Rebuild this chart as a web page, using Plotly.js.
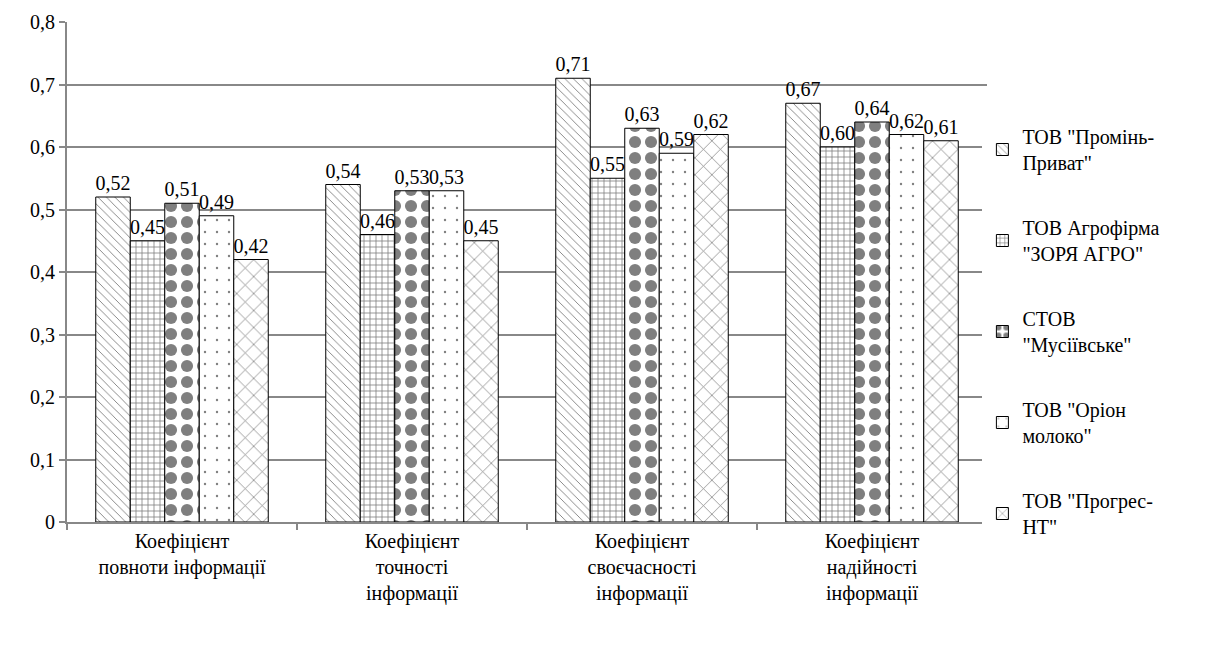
<!DOCTYPE html>
<html><head><meta charset="utf-8">
<script src="https://cdn.plot.ly/plotly-3.0.1.min.js"></script>
<style>
body{margin:0;background:#fff}
#chart{width:1222px;height:659px}
#chart svg text{font-family:"Liberation Serif", serif !important;}
</style>
</head><body><div id="chart"></div>
<script>
const categories = ["Коефіцієнт<br>повноти інформації", "Коефіцієнт<br>точності<br>інформації", "Коефіцієнт<br>своєчасності<br>інформації", "Коефіцієнт<br>надійності<br>інформації"];
const seriesNames = ["ТОВ \"Промінь-<br>Приват\"", "ТОВ Агрофірма<br>\"ЗОРЯ АГРО\"", "СТОВ<br>\"Мусіївське\"", "ТОВ \"Оріон<br>молоко\"", "ТОВ \"Прогрес-<br>НТ\""];
const promin = [0.52, 0.54, 0.71, 0.67];
const zorya = [0.45, 0.46, 0.55, 0.60];
const musiivske = [0.51, 0.53, 0.63, 0.64];
const orion = [0.49, 0.53, 0.59, 0.62];
const progres = [0.42, 0.45, 0.62, 0.61];
const yTickVals = [0, 0.1, 0.2, 0.3, 0.4, 0.5, 0.6, 0.7, 0.8];
const yTickText = ["0", "0,1", "0,2", "0,3", "0,4", "0,5", "0,6", "0,7", "0,8"];
const values = [promin, zorya, musiivske, orion, progres];
const patterns = [
  {shape: "\\", size: 6, solidity: 0.15},
  {shape: "+", size: 6, solidity: 0.25},
  {shape: ".", size: 16, solidity: 0.45},
  {shape: ".", size: 12, solidity: 0.03},
  {shape: "x", size: 12, solidity: 0.12}
];
function mkFont() { return {family: "Liberation Serif", size: 20, color: "#000"}; }
const traces = values.map((v, i) => ({
  type: "bar",
  name: seriesNames[i],
  x: categories,
  y: v,
  legendgroup: "g" + i,
  texttemplate: "%{y:.2f}",
  textposition: "outside",
  constraintext: "none",
  cliponaxis: false,
  textfont: mkFont(),
  marker: {
    color: "#fff",
    line: {color: "#000", width: 1},
    pattern: Object.assign({fgcolor: "#000", bgcolor: "#fff", fillmode: "overlay"}, patterns[i])
  }
}));
const layout = {
  width: 1222, height: 659,
  margin: {l: 67, r: 235, t: 22, b: 137},
  paper_bgcolor: "#fff", plot_bgcolor: "#fff",
  font: mkFont(),
  separators: ", ",
  barmode: "group",
  bargap: 0.25,
  bargroupgap: 0,
  showlegend: true,
  legend: {x: 0.995, xanchor: "left", y: 0.81, yanchor: "top", traceorder: "grouped", tracegroupgap: 36, font: mkFont(), itemwidth: 30},
  xaxis: {showline: true, linecolor: "#888", linewidth: 2, ticks: "outside", tickson: "boundaries", tickcolor: "#888", ticklen: 6, tickwidth: 2, tickfont: mkFont(), showgrid: false},
  yaxis: {range: [0, 0.8], tickmode: "array", tickvals: yTickVals, ticktext: yTickText, showline: true, linecolor: "#888", linewidth: 2, ticks: "outside", tickcolor: "#888", ticklen: 6, tickwidth: 2, gridcolor: "#888", gridwidth: 2, zeroline: false, tickfont: mkFont()}
};
Plotly.newPlot("chart", traces, layout, {displayModeBar: false});
</script></body></html>
